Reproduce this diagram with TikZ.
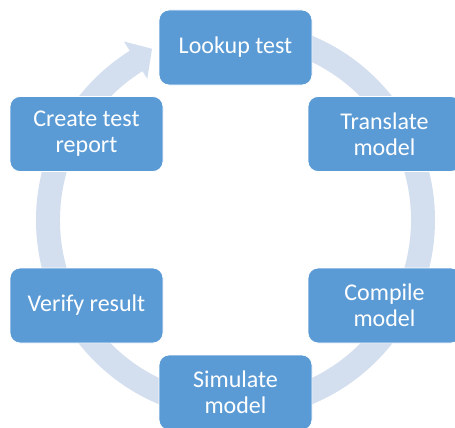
\documentclass[tikz,border=0pt]{standalone}
\usepackage{fontspec}
\setmainfont{Carlito}
\usetikzlibrary{calc}
\definecolor{nodeblue}{HTML}{5B9BD5}
\definecolor{ringblue}{HTML}{D3DEEF}
\begin{document}
\begin{tikzpicture}[x=1pt,y=-1pt,
  stepbox/.style={fill=nodeblue, draw=white, line width=0.8pt, rounded corners=10pt,
    minimum width=153pt, minimum height=75pt, text=white,
    font=\fontsize{24}{26}\selectfont, align=center, inner sep=0pt}]
\useasboundingbox (0,0) rectangle (455,428);
\clip (0,0) rectangle (455,428);
\coordinate (c) at (235.5,220);
\fill[ringblue] ($(c)+(-90:199.5)$) arc[start angle=-90,end angle=238,radius=199.5]
  -- ($(c)+(238:210.5)$) -- ($(c)+(244:190.5)$) -- ($(c)+(238:166.5)$)
  -- ($(c)+(238:175.5)$) arc[start angle=238,end angle=-90,radius=175.5] -- cycle;
\node[stepbox] (lookup) at (235.5,47.5) {Lookup test};
\node[stepbox] (translate) at (384.5,134) {Translate\\model};
\node[stepbox] (compile) at (384.5,305.5) {Compile\\model};
\node[stepbox] (simulate) at (235.5,392.5) {Simulate\\model};
\node[stepbox] (verify) at (86.5,305.5) {Verify result};
\node[stepbox] (create) at (86.5,134) {Create test\\report};
\end{tikzpicture}
\end{document}
